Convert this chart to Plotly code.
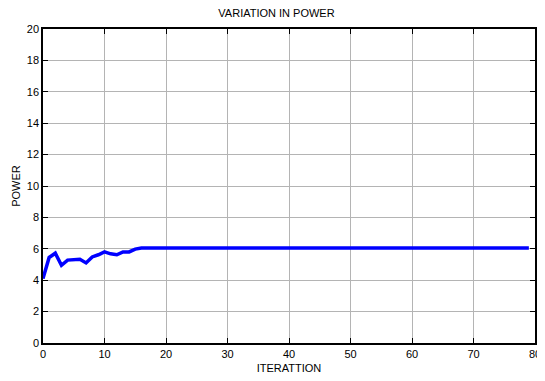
import plotly.graph_objects as go

iterations = list(range(80))
power_head = [4.1, 5.45, 5.72, 4.95, 5.28, 5.28, 5.33, 5.1, 5.48, 5.62, 5.8, 5.68, 5.62, 5.8, 5.8, 5.98, 6.05]
power = power_head + [6.05] * (80 - len(power_head))

x_ticks = [0, 10, 20, 30, 40, 50, 60, 70, 80]
y_ticks = [0, 2, 4, 6, 8, 10, 12, 14, 16, 18, 20]

fig = go.Figure()
fig.add_trace(go.Scatter(x=iterations, y=power, mode="lines",
                         line=dict(color="#0000ff", width=3.5), showlegend=False))

font = dict(family="Liberation Sans, Arial, sans-serif", size=11, color="#000000")
axis_common = dict(showline=True, linecolor="#000000", linewidth=1.5, mirror="ticks",
                   ticks="inside", ticklen=5, tickcolor="#000000",
                   showgrid=True, gridcolor="#b4b4b4", gridwidth=1.2,
                   zeroline=False, tickfont=font, automargin=False)

fig.update_layout(
    width=537, height=373,
    margin=dict(l=35, r=10, t=21, b=38),
    paper_bgcolor="#ffffff", plot_bgcolor="#ffffff",
    title=dict(text="VARIATION IN POWER", x=0.5, xanchor="center", y=0.985, yanchor="middle",
               font=dict(family="Liberation Sans, Arial, sans-serif", size=11, color="#000000")),
    xaxis=dict(range=[0, 80], tickvals=x_ticks,
               title=dict(text="ITERATTION", font=font, standoff=5), **axis_common),
    yaxis=dict(range=[0, 20], tickvals=y_ticks,
               title=dict(text="POWER", font=font, standoff=4), **axis_common),
)

fig.write_html("out.html")
